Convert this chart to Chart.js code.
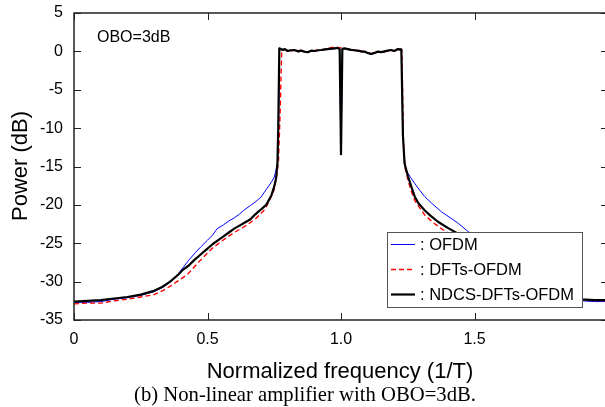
<!DOCTYPE html>
<html>
<head>
<meta charset="utf-8">
<script src="https://cdn.jsdelivr.net/npm/chart.js@4.4.1/dist/chart.umd.min.js"></script>
<style>
  html, body { margin: 0; padding: 0; background: #fff; overflow: hidden; }
  #wrap { width: 608px; height: 407px; }
</style>
</head>
<body>
<div id="wrap"><canvas id="myChart" width="608" height="407"></canvas></div>
<script>
// tick labels
const xTicks = [0, 0.5, 1, 1.5]
const yTicks = [5, 0, -5, -10, -15, -20, -25, -30, -35]

// OFDM (blue)
const freqOfdm = [0, 0.05, 0.1, 0.15, 0.2, 0.25, 0.3, 0.33, 0.36, 0.39, 0.41, 0.43, 0.45, 0.474, 0.5, 0.52, 0.536, 0.56, 0.58, 0.6, 0.62, 0.636, 0.66, 0.68, 0.7, 0.72, 0.74, 0.75, 0.762, 0.766, 0.77,
  0.78, 0.79, 0.8, 0.81, 0.825, 0.84, 0.85, 0.865, 0.875, 0.89, 0.9, 0.915, 0.925, 0.94, 0.95, 0.965, 0.975, 0.988, 0.995, 1.0, 1.005, 1.012, 1.025, 1.038, 1.05, 1.063, 1.075, 1.088, 1.1, 1.113, 1.125, 1.138, 1.15, 1.163, 1.175, 1.188, 1.2, 1.213, 1.226,
  1.232, 1.238, 1.244, 1.26, 1.276, 1.295, 1.313, 1.34, 1.376, 1.41, 1.439, 1.47, 1.5, 1.55, 1.6, 1.65, 1.7, 1.75, 1.8, 1.85, 1.9, 1.95, 2.0]
const powerOfdm = [-32.7, -32.7, -32.6, -32.3, -32.1, -31.8, -31.3, -30.8, -30.1, -29.0, -28.1, -27.2, -26.4, -25.5, -24.6, -23.9, -23.1, -22.6, -22.1, -21.7, -21.2, -20.7, -20.1, -19.6, -19.0, -18.0, -17.0, -16.4, -14.7, -10, 0.3,
  0.15, 0.25, 0.0, 0.1, 0.15, -0.05, 0.05, -0.1, -0.15, 0.05, 0.0, 0.1, 0.15, 0.2, 0.25, 0.3, 0.35, 0.4, 0.25, -13.5, 0.25, 0.35, 0.25, 0.15, 0.1, 0.05, -0.05, -0.1, -0.25, -0.4, -0.25, -0.1, -0.15, -0.05, 0.05, 0.15, 0.0, 0.25, 0.2,
  -11, -14.2, -15.5, -16.4, -17.2, -18.1, -18.9, -19.8, -20.9, -21.7, -22.4, -23.3, -24.2, -25.8, -27.3, -28.9, -30.4, -31.4, -32.0, -32.3, -32.5, -32.6, -32.6]

// DFTs-OFDM (red dashed)
const freqDfts = [0, 0.05, 0.1, 0.15, 0.2, 0.25, 0.3, 0.336, 0.36, 0.39, 0.424, 0.45, 0.474, 0.499, 0.52, 0.55, 0.574, 0.6, 0.625, 0.649, 0.68, 0.712, 0.73, 0.749, 0.76, 0.766, 0.772, 0.778,
  0.79, 0.8, 0.81, 0.825, 0.84, 0.85, 0.865, 0.875, 0.89, 0.9, 0.915, 0.925, 0.94, 0.95, 0.965, 0.975, 0.988, 1.0, 1.012, 1.025, 1.038, 1.05, 1.063, 1.075, 1.088, 1.1, 1.113, 1.125, 1.138, 1.15, 1.163, 1.175, 1.188, 1.2, 1.213, 1.228,
  1.234, 1.24, 1.251, 1.263, 1.276, 1.295, 1.313, 1.345, 1.376, 1.42, 1.47, 1.52, 1.57, 1.62, 1.67, 1.72, 1.77, 1.82, 1.87, 1.92, 2.0]
const powerDfts = [-32.9, -32.8, -32.8, -32.5, -32.3, -32.0, -31.7, -31.1, -30.6, -29.9, -29.1, -28.1, -27.2, -26.3, -25.6, -24.8, -24.2, -23.6, -23.1, -22.6, -21.8, -20.7, -19.6, -18.1, -16.0, -14.2, -8, 0.2,
  0.2, 0.1, 0.05, 0.2, 0.05, 0.15, 0.0, -0.08, 0.05, 0.1, 0.2, 0.15, 0.3, 0.4, 0.5, 0.5, 0.5, 0.45, 0.4, 0.35, 0.25, 0.2, 0.05, 0.05, -0.05, -0.15, -0.3, -0.15, -0.05, -0.15, -0.05, 0.1, 0.1, 0.1, 0.2, 0.15,
  -12, -15.2, -16.8, -18.2, -19.4, -20.4, -21.3, -22.3, -23.1, -24.1, -25.5, -26.9, -28.4, -29.8, -30.9, -31.6, -32.0, -32.2, -32.4, -32.4, -32.5]

// NDCS-DFTs-OFDM (black)
const freqNdcs = [0, 0.05, 0.1, 0.15, 0.2, 0.25, 0.3, 0.33, 0.36, 0.39, 0.41, 0.43, 0.45, 0.47, 0.49, 0.5, 0.52, 0.54, 0.56, 0.58, 0.6, 0.62, 0.64, 0.66, 0.68, 0.7, 0.72, 0.74, 0.75, 0.757, 0.762, 0.765, 0.769,
  0.78, 0.79, 0.8, 0.81, 0.825, 0.84, 0.85, 0.865, 0.875, 0.89, 0.9, 0.915, 0.925, 0.94, 0.95, 0.965, 0.975, 0.988, 0.995, 1.0, 1.005, 1.012, 1.025, 1.038, 1.05, 1.063, 1.075, 1.088, 1.1, 1.113, 1.125, 1.138, 1.15, 1.163, 1.175, 1.188, 1.2, 1.213, 1.226,
  1.232, 1.238, 1.251, 1.263, 1.276, 1.29, 1.313, 1.335, 1.363, 1.4, 1.45, 1.5, 1.55, 1.6, 1.65, 1.7, 1.75, 1.8, 1.85, 1.9, 1.95, 2.0]
const powerNdcs = [-32.6, -32.5, -32.4, -32.2, -32.0, -31.7, -31.2, -30.7, -30.0, -29.1, -28.4, -27.9, -27.2, -26.6, -26.0, -25.7, -25.1, -24.6, -24.1, -23.6, -23.1, -22.7, -22.3, -21.9, -21.2, -20.6, -20.0, -18.7, -17.6, -16.5, -14.5, -10, 0.4,
  0.2, 0.3, 0.05, 0.15, 0.18, 0.0, 0.1, -0.05, -0.12, 0.1, 0.05, 0.15, 0.18, 0.25, 0.3, 0.35, 0.4, 0.45, 0.3, -13.4, 0.3, 0.4, 0.3, 0.2, 0.15, 0.1, 0.0, -0.03, -0.2, -0.34, -0.2, -0.03, -0.1, 0.0, 0.1, 0.18, 0.05, 0.3, 0.25,
  -11, -14.6, -16.3, -17.6, -18.9, -19.8, -20.7, -21.4, -22.2, -23.0, -24.0, -25.6, -27.0, -28.5, -29.9, -31.0, -31.6, -31.9, -32.1, -32.3, -32.4, -32.4]

const FONT = '"Liberation Sans", Arial, sans-serif'

function toPoints(xs, ys) {
    return xs.map((x, i) => ({ x: x, y: ys[i] }))
}

// frame, inward ticks, texts and legend
const extras = {
    id: 'extras',
    afterDatasetsDraw(chart) {
        const ctx = chart.ctx
        const a = chart.chartArea
        const xs = chart.scales.x
        const ys = chart.scales.y
        ctx.save()
        ctx.strokeStyle = '#222'
        ctx.lineWidth = 1.5
        ctx.strokeRect(a.left, a.top, a.right - a.left, a.bottom - a.top)
        ctx.lineWidth = 1
        ctx.beginPath()
        xTicks.forEach(v => {
            const px = Math.round(xs.getPixelForValue(v)) + 0.5
            ctx.moveTo(px, a.bottom); ctx.lineTo(px, a.bottom - 7)
            ctx.moveTo(px, a.top); ctx.lineTo(px, a.top + 7)
        })
        yTicks.forEach(v => {
            const py = Math.round(ys.getPixelForValue(v)) + 0.5
            ctx.moveTo(a.left, py); ctx.lineTo(a.left + 7, py)
            ctx.moveTo(a.right, py); ctx.lineTo(a.right - 7, py)
        })
        ctx.stroke()

        // legend box
        const lx = 387, ly = 232, lw = 195, lh = 75
        ctx.fillStyle = '#fff'
        ctx.fillRect(lx, ly, lw, lh)
        ctx.strokeStyle = '#555'
        ctx.lineWidth = 1
        ctx.strokeRect(lx + 0.5, ly + 0.5, lw, lh)
        const rows = [2, 1, 0]
        ctx.font = '16.5px ' + FONT
        ctx.textBaseline = 'middle'
        ctx.textAlign = 'left'
        rows.forEach((di, r) => {
            const ds = chart.data.datasets[di]
            const y = 244.5 + r * 25
            ctx.strokeStyle = ds.borderColor
            ctx.lineWidth = ds.borderWidth
            ctx.setLineDash(ds.borderDash || [])
            ctx.beginPath()
            ctx.moveTo(391, y); ctx.lineTo(415, y)
            ctx.stroke()
            ctx.setLineDash([])
            ctx.fillStyle = '#000'
            ctx.fillText(': ' + ds.label, 420, y + 1)
        })

        // texts
        ctx.fillStyle = '#000'
        ctx.font = '16px ' + FONT
        ctx.textBaseline = 'alphabetic'
        ctx.fillText('OBO=3dB', 97, 42)

        ctx.textAlign = 'center'
        ctx.font = '22px ' + FONT
        ctx.fillText('Normalized frequency (1/T)', 340, 378)

        ctx.font = '20.7px "Liberation Serif", "Times New Roman", serif'
        ctx.fillText('(b) Non-linear amplifier with OBO=3dB.', 305, 401)

        ctx.translate(21, 166)
        ctx.rotate(-Math.PI / 2)
        ctx.font = '22px ' + FONT
        ctx.textBaseline = 'middle'
        ctx.fillText('Power (dB)', 0, 0)
        ctx.restore()
    }
}

const chart = new Chart(document.getElementById('myChart').getContext('2d'), {
    type: 'line',
    data: {
        datasets: [
            {
                label: 'NDCS-DFTs-OFDM',
                data: toPoints(freqNdcs, powerNdcs),
                borderColor: '#000000',
                borderWidth: 2.2,
                order: 0
            },
            {
                label: 'DFTs-OFDM',
                data: toPoints(freqDfts, powerDfts),
                borderColor: '#ff0000',
                borderWidth: 1.4,
                borderDash: [5, 3],
                order: 1
            },
            {
                label: 'OFDM',
                data: toPoints(freqOfdm, powerOfdm),
                borderColor: '#0000ff',
                borderWidth: 1,
                order: 2
            }
        ]
    },
    options: {
        responsive: false,
        animation: false,
        devicePixelRatio: 1,
        layout: { padding: { top: 13, right: 0, left: 0, bottom: 0 } },
        elements: { point: { radius: 0 }, line: { tension: 0, borderJoinStyle: 'round' } },
        plugins: { legend: { display: false }, tooltip: { enabled: false } },
        scales: {
            x: {
                type: 'linear',
                min: 0,
                max: 2,
                grid: { display: false, drawTicks: false },
                border: { display: false },
                afterBuildTicks: s => { s.ticks = xTicks.map(v => ({ value: v })) },
                afterFit: s => { s.height = 87; s.paddingLeft = 0; s.paddingRight = 0 },
                ticks: { padding: 10, color: '#000', font: { family: FONT, size: 16 }, maxRotation: 0 }
            },
            y: {
                min: -35,
                max: 5,
                grid: { display: false, drawTicks: false },
                border: { display: false },
                afterBuildTicks: s => { s.ticks = yTicks.map(v => ({ value: v })) },
                afterFit: s => { s.width = 74; s.paddingTop = 0; s.paddingBottom = 0 },
                ticks: { padding: 11, color: '#000', font: { family: FONT, size: 16 } }
            }
        }
    },
    plugins: [extras]
})
</script>
</body>
</html>
